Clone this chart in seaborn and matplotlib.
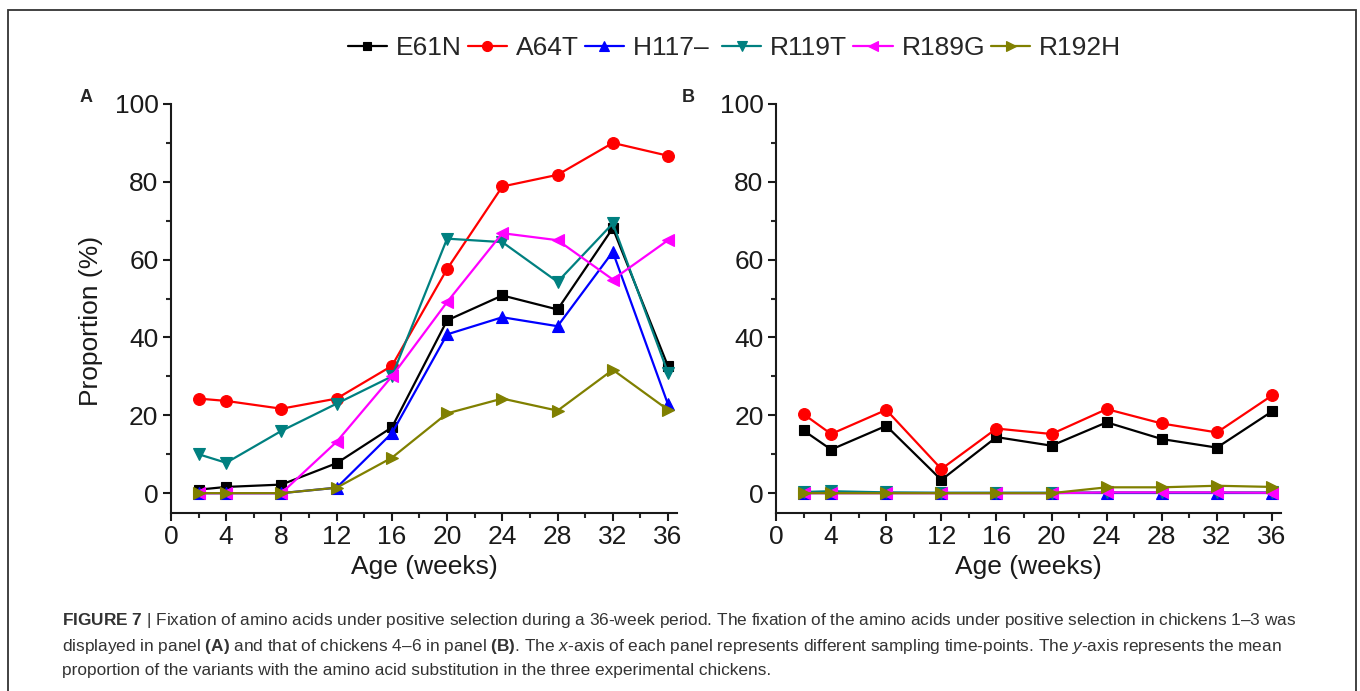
import numpy as np
import pandas as pd
import matplotlib
matplotlib.use("Agg")
import matplotlib.pyplot as plt
import seaborn as sns
from matplotlib.ticker import MultipleLocator
from matplotlib.patches import Rectangle

weeks = [2, 4, 8, 12, 16, 20, 24, 28, 32, 36]
series_names = ["E61N", "A64T", "H117– ", "R119T", "R189G", "R192H"]

panelA_E61N = [0.9, 1.6, 2.2, 7.7, 16.9, 44.4, 50.8, 47.2, 68.1, 32.6]
panelA_A64T = [24.3, 23.7, 21.7, 24.3, 32.7, 57.6, 78.8, 81.8, 90.0, 86.7]
panelA_H117 = [0.0, 0.0, 0.0, 1.4, 15.4, 40.8, 45.2, 42.9, 62.0, 22.8]
panelA_R119T = [10.0, 7.8, 16.0, 23.0, 30.0, 65.4, 64.5, 54.3, 69.3, 30.9]
panelA_R189G = [0.0, 0.0, 0.0, 13.2, 30.0, 49.1, 66.8, 65.0, 54.9, 65.0]
panelA_R192H = [0.0, 0.0, 0.0, 1.4, 9.1, 20.5, 24.3, 21.2, 31.7, 21.4]

panelB_E61N = [16.1, 11.2, 17.3, 3.4, 14.4, 12.2, 18.2, 13.9, 11.7, 21.0]
panelB_A64T = [20.3, 15.2, 21.4, 6.2, 16.6, 15.2, 21.6, 17.9, 15.6, 25.1]
panelB_H117 = [0.0, 0.0, 0.0, 0.0, 0.0, 0.0, 0.0, 0.0, 0.0, 0.0]
panelB_R119T = [0.3, 0.5, 0.2, 0.1, 0.1, 0.1, 0.2, 0.2, 0.2, 0.2]
panelB_R189G = [0.0, 0.0, 0.0, 0.0, 0.0, 0.0, 0.2, 0.2, 0.2, 0.1]
panelB_R192H = [0.0, 0.0, 0.0, 0.0, 0.0, 0.0, 1.5, 1.5, 1.9, 1.6]

x_ticks = [0, 4, 8, 12, 16, 20, 24, 28, 32, 36]
y_ticks = [0, 20, 40, 60, 80, 100]

colors = ["#000000", "#FF0000", "#0000FF", "#008080", "#FF00FF", "#808000"]
markers = ["s", "o", "^", "v", "<", ">"]
msizes = [7, 8.5, 8, 8, 8, 8]

sns.set_theme(style="ticks")
plt.rcParams["font.family"] = ["Liberation Sans", "DejaVu Sans"]
plt.rcParams["mathtext.fontset"] = "custom"
plt.rcParams["mathtext.rm"] = "Liberation Sans"
plt.rcParams["mathtext.bf"] = "Liberation Sans:bold"
plt.rcParams["mathtext.it"] = "Liberation Sans:italic"

fig = plt.figure(figsize=(13.6, 6.91), dpi=100)
axA = fig.add_axes([0.1257, 0.2576, 0.3721, 0.5919])
axB = fig.add_axes([0.5706, 0.2576, 0.3713, 0.5919])

dataA = [panelA_E61N, panelA_A64T, panelA_H117, panelA_R119T, panelA_R189G, panelA_R192H]
dataB = [panelB_E61N, panelB_A64T, panelB_H117, panelB_R119T, panelB_R189G, panelB_R192H]

for ax, data in [(axA, dataA), (axB, dataB)]:
    for name, vals, c, m, ms in zip(series_names, data, colors, markers, msizes):
        df = pd.DataFrame({"week": weeks, "value": vals})
        sns.lineplot(data=df, x="week", y="value", ax=ax, color=c, marker=m,
                     markersize=ms, markeredgecolor=c, markeredgewidth=0.8,
                     linewidth=1.6, label=name, legend=False)
    ax.set_xlim(0, 36.65)
    ax.set_ylim(-5.1, 100)
    ax.set_xticks(x_ticks)
    ax.set_yticks(y_ticks)
    ax.xaxis.set_minor_locator(MultipleLocator(2))
    ax.yaxis.set_minor_locator(MultipleLocator(10))
    ax.tick_params(which="major", direction="out", length=6, width=1.5,
                   labelsize=19, colors="#1a1a1a", pad=3)
    ax.tick_params(which="minor", direction="out", length=3.5, width=1.5)
    for s in ["top", "right"]:
        ax.spines[s].set_visible(False)
    for s in ["left", "bottom"]:
        ax.spines[s].set_linewidth(1.5)
        ax.spines[s].set_color("#1a1a1a")
    ax.set_xlabel("Age (weeks)", fontsize=19, labelpad=4, color="#1a1a1a")
    ax.set_ylabel("")
    ax.set_facecolor("white")

axA.set_ylabel("Proportion (%)", fontsize=19, color="#1a1a1a")
axA.yaxis.set_label_coords(-0.134, 0.47)

fig.text(80 / 1360, 1 - 97 / 691, "A", fontsize=13, fontweight="bold", va="center")
fig.text(682 / 1360, 1 - 97 / 691, "B", fontsize=13, fontweight="bold", va="center")

handles, labels = axA.get_legend_handles_labels()
fig.legend(handles, labels, loc="center", bbox_to_anchor=(0.54, 0.93), ncol=6,
           frameon=False, fontsize=19, handlelength=1.5, handletextpad=0.33,
           columnspacing=0.22, markerscale=0.85)

# border
fig.patches.append(Rectangle((8 / 1360, -0.05), (1356 - 8) / 1360, 1.05 - 10 / 691,
                             transform=fig.transFigure, fill=False,
                             edgecolor="#333333", linewidth=1.3))

cap_color = "#333333"
cap_fs = 12.45
fig.text(62 / 1360, 1 - 621 / 691,
         r"$\mathbf{FIGURE\ 7}$ | Fixation of amino acids under positive selection during a 36-week period. "
         "The fixation of the amino acids under positive selection in chickens 1–3 was",
         fontsize=cap_fs, color=cap_color, va="center")
fig.text(62 / 1360, 1 - 646 / 691,
         r"displayed in panel $\mathbf{(A)}$ and that of chickens 4–6 in panel $\mathbf{(B)}$. "
         r"The $\mathit{x}$-axis of each panel represents different sampling time-points. "
         r"The $\mathit{y}$-axis represents the mean",
         fontsize=cap_fs, color=cap_color, va="center")
fig.text(62 / 1360, 1 - 670 / 691,
         "proportion of the variants with the amino acid substitution in the three experimental chickens.",
         fontsize=cap_fs, color=cap_color, va="center")

fig.savefig("out.png", dpi=100, facecolor="white")
